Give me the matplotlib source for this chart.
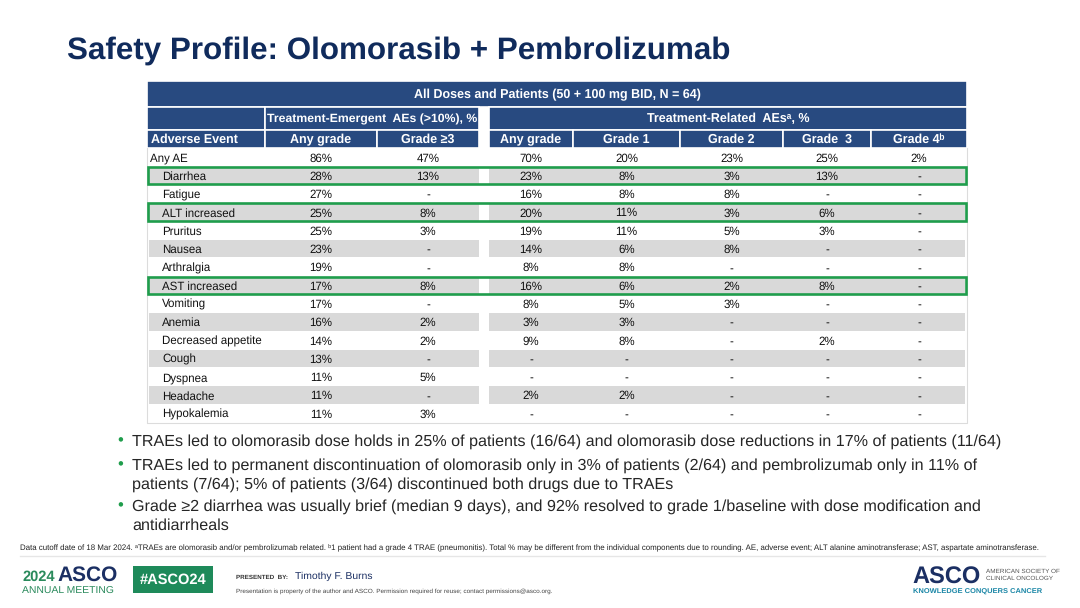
import matplotlib
matplotlib.use("Agg")
from matplotlib import pyplot as plt
from matplotlib.patches import Rectangle

plt.rcParams["font.family"] = ["Liberation Sans", "DejaVu Sans"]
plt.rcParams["text.hinting"] = "no_hinting"

# table data (None = "-")
events = ["Any AE", "Diarrhea", "Fatigue", "ALT increased", "Pruritus", "Nausea",
          "Arthralgia", "AST increased", "Vomiting", "Anemia", "Decreased appetite",
          "Cough", "Dyspnea", "Headache", "Hypokalemia"]
teae_any = [86, 28, 27, 25, 25, 23, 19, 17, 17, 16, 14, 13, 11, 11, 11]
teae_g3 = [47, 13, None, 8, 3, None, None, 8, None, 2, 2, None, 5, None, 3]
trae_any = [70, 23, 16, 20, 19, 14, 8, 16, 8, 3, 9, None, None, 2, None]
trae_g1 = [20, 8, 8, 11, 11, 6, 8, 6, 5, 3, 8, None, None, 2, None]
trae_g2 = [23, 3, 8, 3, 5, 8, None, 2, 3, None, None, None, None, None, None]
trae_g3 = [25, 13, None, 6, 3, None, None, 8, None, None, 2, None, None, None, None]
trae_g4 = [2, None, None, None, None, None, None, None, None, None, None, None, None, None, None]
highlighted = ["Diarrhea", "ALT increased", "AST increased"]

col_labels = ["Adverse Event", "Any grade", "Grade \u22653", "Any grade", "Grade 1",
              "Grade 2", "Grade  3", "Grade 4\u1d47"]
top_header = "All Doses and Patients (50 + 100 mg BID, N = 64)"
group_left = "Treatment-Emergent  AEs (>10%), %"
group_right = "Treatment-Related  AEs\u1d43, %"

bullets = [
    "TRAEs led to olomorasib dose holds in 25% of patients (16/64) and olomorasib dose reductions in 17% of patients (11/64)",
    "TRAEs led to permanent discontinuation of olomorasib only in 3% of patients (2/64) and pembrolizumab only in 11% of\npatients (7/64); 5% of patients (3/64) discontinued both drugs due to TRAEs",
    "Grade \u22652 diarrhea was usually brief (median 9 days), and 92% resolved to grade 1/baseline with dose modification and\nantidiarrheals",
]
footnote = ("Data cutoff date of 18 Mar 2024. \u1d43TRAEs are olomorasib and/or pembrolizumab related. "
            "\u1d471 patient had a grade 4 TRAE (pneumonitis). Total % may be different from the individual "
            "components due to rounding. AE, adverse event; ALT alanine aminotransferase; AST, aspartate aminotransferase.")

NAVY = "#284a80"
TITLE = "#102b5c"
GREEN = "#1f9d4c"

fig = plt.figure(figsize=(10.8, 6.08), dpi=100)
ax = fig.add_axes([0, 0, 1, 1])
ax.set_xlim(0, 1080)
ax.set_ylim(608, 0)
ax.axis("off")

ax.text(67, 51, "Safety Profile: Olomorasib + Pembrolizumab", fontsize=22.6, fontweight="bold",
        color=TITLE, va="center", ha="left")

# column edges (left block, gap, right block)
cols = [(147, 265), (265, 377), (377, 479), (489, 573), (573, 680), (680, 783), (783, 871), (871, 967)]


def cell(x0, x1, y0, y1, text="", size=9, left=False):
    ax.add_patch(Rectangle((x0, y0), x1 - x0, y1 - y0, facecolor=NAVY, edgecolor="white", lw=1.2))
    if text:
        ax.text(x0 + 4 if left else (x0 + x1) / 2, (y0 + y1) / 2 + 0.5, text, color="white",
                fontsize=size, fontweight="bold", ha="left" if left else "center", va="center")


# header rows
cell(147, 967, 81, 107, top_header)
cell(147, 265, 107, 130)
cell(265, 479, 107, 130, group_left, size=8.8)
cell(489, 967, 107, 130, group_right)
for i, (x0, x1) in enumerate(cols):
    cell(x0, x1, 130, 148, col_labels[i], left=(i == 0))

# data rows
row_h = 18.3
y_top = 148
columns = [teae_any, teae_g3, trae_any, trae_g1, trae_g2, trae_g3, trae_g4]
for r, ev in enumerate(events):
    y0 = y_top + r * row_h
    yc = y0 + row_h / 2
    if r % 2 == 1:
        ax.add_patch(Rectangle((149, y0 + 0.5), 479 - 149, row_h - 1, facecolor="#d9d9d9", lw=0))
        ax.add_patch(Rectangle((489, y0 + 0.5), 965 - 489, row_h - 1, facecolor="#d9d9d9", lw=0))
    ax.text(150 if r == 0 else 162, yc, ev, fontsize=8.3, color="#111111", ha="left",
            va="center_baseline")
    for c, vals in enumerate(columns):
        x0, x1 = cols[c + 1]
        v = vals[r]
        ax.text((x0 + x1) / 2, yc, "-" if v is None else f"{v}%", fontsize=8.3,
                color="#111111", ha="center", va="center_baseline")
    if ev in highlighted:
        ax.add_patch(Rectangle((147.5, y0 + 0.5), 966 - 147.5, row_h - 1, fill=False,
                               edgecolor=GREEN, lw=1.9, zorder=5))

y_bot = y_top + len(events) * row_h
ax.plot([147, 147, 967, 967], [148, y_bot, y_bot, 148], color="#dcdcdc", lw=0.8)

# bullets
by = [443, 467, 508]
for y, b in zip(by, bullets):
    ax.text(117, y - 2, "\u2022", color=GREEN, fontsize=12, ha="left", va="center")
    ax.text(132, y - 8.5, b, fontsize=11.6, color="#262626", ha="left", va="top", linespacing=1.35)

# footnote
ax.text(20, 547, footnote, fontsize=5.7, color="#222222", ha="left", va="center")
ax.plot([20, 1045], [556, 556], color="#e6e6e6", lw=1)

# footer
ax.text(22, 581, "2024", fontsize=10.5, fontweight="bold", color="#2a8a5c", ha="left", va="baseline")
ax.text(57, 581, "ASCO", fontsize=15, fontweight="bold", color="#1b2f63", ha="left", va="baseline")
ax.text(22, 591, "ANNUAL MEETING", fontsize=7.5, color="#2a8a5c", ha="left", va="center")
ax.add_patch(Rectangle((133, 566), 80, 27, facecolor="#1e8a5a", lw=0))
ax.text(173, 580, "#ASCO24", fontsize=10.5, fontweight="bold", color="white", ha="center", va="center")
ax.text(236, 577, "PRESENTED  BY:", fontsize=4.5, fontweight="bold", color="#333333", ha="left", va="center")
ax.text(295, 576, "Timothy F. Burns", fontsize=7.5, color="#1b2f63", ha="left", va="center")
ax.text(236, 591, "Presentation is property of the author and ASCO. Permission required for reuse; contact permissions@asco.org.",
        fontsize=4.6, color="#444444", ha="left", va="center")
ax.text(912, 584, "ASCO", fontsize=17, fontweight="bold", color="#1b2f63", ha="left", va="baseline")
ax.text(986, 571, "AMERICAN SOCIETY OF", fontsize=4.6, color="#555555", ha="left", va="center")
ax.text(986, 578, "CLINICAL ONCOLOGY", fontsize=4.6, color="#555555", ha="left", va="center")
ax.text(913, 592, "KNOWLEDGE CONQUERS CANCER", fontsize=5.4, fontweight="bold", color="#1a86a6",
        ha="left", va="center")

fig.savefig("out.png", dpi=100)
